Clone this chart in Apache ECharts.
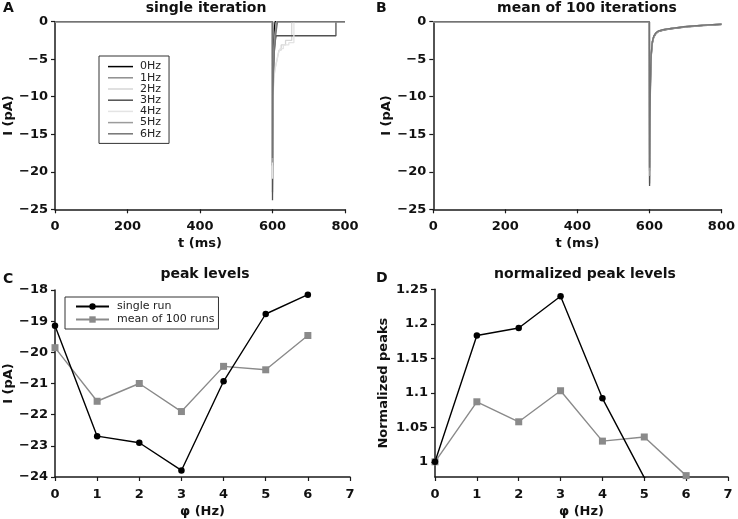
<!DOCTYPE html>
<html><head><meta charset="utf-8">
<script src="https://cdn.jsdelivr.net/npm/echarts@6/dist/echarts.min.js"></script>
<style>html,body{margin:0;padding:0;background:#fff}#c{width:738px;height:519px}</style>
</head><body><div id="c"></div>
<script>
// ---- data ----
const freqNames = ['0Hz','1Hz','2Hz','3Hz','4Hz','5Hz','6Hz'];
const freqColors = ['#000000','#8e8e8e','#d6d6d6','#515151','#e4e4e4','#9c9c9c','#747474'];

// panel A: single iteration traces [t (ms), I (pA)]
const single0Hz = [[0,0],[600,0],[600,-19.15],[601,-19.15],[601,-11],[602,-11],[602,-6],[603,-6],[603,-3],[605,-3],[605,-1],[607,-1],[607,0],[800,0]];
const single1Hz = [[0,0],[600,0],[600,-22.69],[601,-22.69],[601,-14],[602,-14],[602,-8.5],[603,-8.5],[603,-5.5],[605,-5.5],[605,-3.5],[607,-3.5],[607,-2],[609,-2],[609,-0.8],[611,-0.8],[611,0],[800,0]];
const single2Hz = [[0,0],[600,0],[600,-22.9],[601,-22.9],[601,-14.5],[602,-14.5],[602,-9.5],[604,-9.5],[604,-7.2],[608,-7.2],[608,-6],[613,-6],[613,-5],[618,-5],[618,-3.8],[624,-3.8],[624,-3.1],[636,-3.1],[636,-2.5],[653,-2.5],[653,0],[800,0]];
const single3Hz = [[0,0],[600,0],[600,-23.79],[601,-23.79],[601,-15],[602,-15],[602,-9.5],[603,-9.5],[603,-6],[605,-6],[605,-4],[607,-4],[607,-2.8],[610,-2.8],[610,-1.87],[775,-1.87],[775,0],[800,0]];
const single4Hz = [[0,0],[600,0],[600,-20.93],[601,-20.93],[601,-13],[602,-13],[602,-9],[604,-9],[604,-7.5],[607,-7.5],[607,-6.3],[612,-6.3],[612,-5.2],[616,-5.2],[616,-4.2],[621,-4.2],[621,-3.6],[630,-3.6],[630,-3.1],[645,-3.1],[645,-2.8],[659,-2.8],[659,0],[800,0]];
const single5Hz = [[0,0],[600,0],[600,-18.77],[601,-18.77],[601,-11],[602,-11],[602,-7],[604,-7],[604,-4.5],[606,-4.5],[606,-2.5],[609,-2.5],[609,-1],[612,-1],[612,0],[800,0]];
const single6Hz = [[0,0],[600,0],[600,-18.15],[601,-18.15],[601,-10],[603,-10],[603,-6.5],[605,-6.5],[605,-4],[608,-4],[608,-2.2],[611,-2.2],[611,-1],[614,-1],[614,0],[800,0]];
const singleTraces = [single0Hz,single1Hz,single2Hz,single3Hz,single4Hz,single5Hz,single6Hz];

// panel B: mean of 100 iterations [t (ms), I (pA)]
const mean0Hz = [[0,0],[600,0],[600.5,-19.85],[601.5,-13.2],[603,-7.4],[605,-4.3],[608,-2.7],[612,-1.95],[618,-1.5],[625,-1.25],[640,-1.05],[660,-0.9],[700,-0.66],[750,-0.47],[800,-0.33]];
const mean1Hz = [[0,0],[600,0],[600.5,-21.57],[601.5,-14.5],[603,-8.0],[605,-4.6],[608,-2.9],[612,-2.05],[618,-1.58],[625,-1.3],[640,-1.1],[660,-0.94],[700,-0.7],[750,-0.5],[800,-0.36]];
const mean2Hz = [[0,0],[600,0],[600.5,-21.0],[601.5,-14.1],[603,-7.8],[605,-4.5],[608,-2.8],[612,-2.0],[618,-1.55],[625,-1.28],[640,-1.08],[660,-0.92],[700,-0.68],[750,-0.48],[800,-0.34]];
const mean3Hz = [[0,0],[600,0],[600.5,-21.9],[601.5,-14.8],[603,-8.2],[605,-4.7],[608,-2.95],[612,-2.1],[618,-1.6],[625,-1.32],[640,-1.12],[660,-0.96],[700,-0.72],[750,-0.52],[800,-0.37]];
const mean4Hz = [[0,0],[600,0],[600.5,-20.45],[601.5,-13.7],[603,-7.6],[605,-4.4],[608,-2.75],[612,-1.98],[618,-1.52],[625,-1.26],[640,-1.06],[660,-0.9],[700,-0.67],[750,-0.47],[800,-0.33]];
const mean5Hz = [[0,0],[600,0],[600.5,-20.56],[601.5,-13.8],[603,-7.7],[605,-4.45],[608,-2.78],[612,-2.0],[618,-1.54],[625,-1.27],[640,-1.07],[660,-0.91],[700,-0.68],[750,-0.48],[800,-0.34]];
const mean6Hz = [[0,0],[600,0],[600.5,-19.46],[601.5,-13.0],[603,-7.3],[605,-4.25],[608,-2.68],[612,-1.93],[618,-1.48],[625,-1.23],[640,-1.03],[660,-0.88],[700,-0.64],[750,-0.45],[800,-0.31]];
const meanTraces = [mean0Hz,mean1Hz,mean2Hz,mean3Hz,mean4Hz,mean5Hz,mean6Hz];

// panels C, D
const phiValues = [0,1,2,3,4,5,6];
const peakSingle = [-19.15,-22.69,-22.90,-23.79,-20.93,-18.77,-18.15];
const peakMean = [-19.85,-21.57,-21.00,-21.90,-20.45,-20.56,-19.46];
const normSingle = [1.0,1.183,1.194,1.240,1.092,0.977,0.948];
const normMean = [1.0,1.087,1.058,1.103,1.030,1.036,0.980];
const normTicks = [1,1.05,1.1,1.15,1.2,1.25];
const compNames = ['single run','mean of 100 runs'];

// ---- chart ----
const FONT = 'DejaVu Sans';
const minusFmt = v => (v < 0 ? '\u2212' : '') + Math.abs(v);
const axisLineStyle = {show:true, onZero:false, lineStyle:{color:'#1a1a1a', width:1.5}};
const tickStyle = {show:true, inside:false, length:4, lineStyle:{color:'#1a1a1a', width:1.2}};
const labelStyle = {color:'#111', fontFamily:FONT, fontWeight:'bold', fontSize:13};
const nameStyle = {color:'#111', fontFamily:FONT, fontWeight:'bold', fontSize:13};

function xAx(gi, min, max, interval, name){
  return {type:'value', gridIndex:gi, min, max, interval, name, nameLocation:'middle', nameGap:28,
    nameTextStyle:nameStyle, axisLine:axisLineStyle, axisTick:tickStyle,
    axisLabel:Object.assign({margin:11, formatter:minusFmt}, labelStyle), splitLine:{show:false}};
}
function yAx(gi, min, max, interval, name, gap){
  return {type:'value', gridIndex:gi, min, max, interval, name, nameLocation:'middle', nameGap:gap,
    nameTextStyle:nameStyle, axisLine:axisLineStyle, axisTick:tickStyle,
    axisLabel:Object.assign({margin:7, formatter:minusFmt}, labelStyle), splitLine:{show:false}};
}

const grids = [
  {left:55, right:393, top:21.7, bottom:309.7},
  {left:433.3, right:12, top:21.7, bottom:309.7},
  {left:55, right:388, top:290, bottom:41.3},
  {left:435, right:10, top:289.3, bottom:40.7}
];

const xAxes = [
  xAx(0,0,800,200,'t (ms)'),
  xAx(1,0,800,200,'t (ms)'),
  xAx(2,0,7,1,'\u03c6 (Hz)'),
  xAx(3,0,7,1,'\u03c6 (Hz)')
];
const yD = yAx(3,0.978,1.25,null,'Normalized peaks',45);
delete yD.interval;
yD.axisLabel = Object.assign({margin:7, customValues:normTicks, formatter: v => String(+(+v).toFixed(2))}, labelStyle);
yD.axisTick = Object.assign({}, tickStyle, {customValues:normTicks});
const yAxes = [
  yAx(0,-25,0,5,'I (pA)',40),
  yAx(1,-25,0,5,'I (pA)',40),
  yAx(2,-24,-18,1,'I (pA)',40),
  yD
];

const series = [];
singleTraces.forEach((d,i)=>{
  series.push({type:'line', name:freqNames[i], xAxisIndex:0, yAxisIndex:0, data:d, symbol:'none', showSymbol:false,
    lineStyle:{color:freqColors[i], width:1.3}, itemStyle:{color:freqColors[i]}, z:2+i, animation:false});
});
meanTraces.forEach((d,i)=>{
  series.push({type:'line', name:freqNames[i], xAxisIndex:1, yAxisIndex:1, data:d, symbol:'none', showSymbol:false,
    lineStyle:{color:freqColors[i], width:1.3}, itemStyle:{color:freqColors[i]}, z:2+i, animation:false});
});
const pair = (xs, ys) => xs.map((x,i)=>[x, ys[i]]);
const compDefs = [
  {name:compNames[0], color:'#000000', symbol:'circle', size:6.5},
  {name:compNames[1], color:'#8a8a8a', symbol:'rect', size:7}
];
[[peakSingle,peakMean,2],[normSingle,normMean,3]].forEach(([a,b,g])=>{
  [a,b].forEach((vals,k)=>{
    const c = compDefs[k];
    series.push({type:'line', name:c.name, xAxisIndex:g, yAxisIndex:g, data:pair(phiValues, vals),
      symbol:c.symbol, symbolSize:c.size, showSymbol:true, clip:true,
      lineStyle:{color:c.color, width:1.4}, itemStyle:{color:c.color}, z:k===0?4:3, animation:false});
  });
});

const titleStyle = {color:'#111', fontFamily:FONT, fontWeight:'bold', fontSize:14};
const letterStyle = {color:'#111', fontFamily:FONT, fontWeight:'bold', fontSize:14};
const titles = [
  {text:'single iteration', left:206, top:1, textAlign:'center', padding:0, textStyle:titleStyle},
  {text:'mean of 100 iterations', left:587, top:1, textAlign:'center', padding:0, textStyle:titleStyle},
  {text:'peak levels', left:205, top:267, textAlign:'center', padding:0, textStyle:titleStyle},
  {text:'normalized peak levels', left:585, top:267, textAlign:'center', padding:0, textStyle:titleStyle},
  {text:'A', left:3, top:1, padding:0, textStyle:letterStyle},
  {text:'B', left:376, top:1, padding:0, textStyle:letterStyle},
  {text:'C', left:3, top:272, padding:0, textStyle:letterStyle},
  {text:'D', left:376, top:271, padding:0, textStyle:letterStyle}
];

const legends = [
  {data:freqNames, orient:'vertical', left:99, top:56, padding:[5,8,4,9], icon:'rect', itemWidth:25, itemHeight:1.5, itemGap:0,
   borderColor:'#333', borderWidth:1, borderRadius:0, backgroundColor:'#fff', selectedMode:false,
   textStyle:{fontFamily:FONT, fontSize:11, color:'#222', lineHeight:11.2, padding:[0,0,0,2]}},
  {data:compNames, orient:'vertical', left:65, top:297, padding:[3,4,3,10], itemWidth:33, itemHeight:8, itemGap:0,
   borderColor:'#333', borderWidth:1, borderRadius:0, backgroundColor:'#fff', selectedMode:false,
   textStyle:{fontFamily:FONT, fontSize:11, color:'#222', lineHeight:13, padding:[0,0,0,3]}}
];

const chart = echarts.init(document.getElementById('c'), null, {renderer:'canvas'});
chart.setOption({
  animation:false,
  backgroundColor:'#fff',
  textStyle:{fontFamily:FONT},
  title:titles,
  legend:legends,
  grid:grids,
  xAxis:xAxes,
  yAxis:yAxes,
  series
});
</script>
</body></html>
